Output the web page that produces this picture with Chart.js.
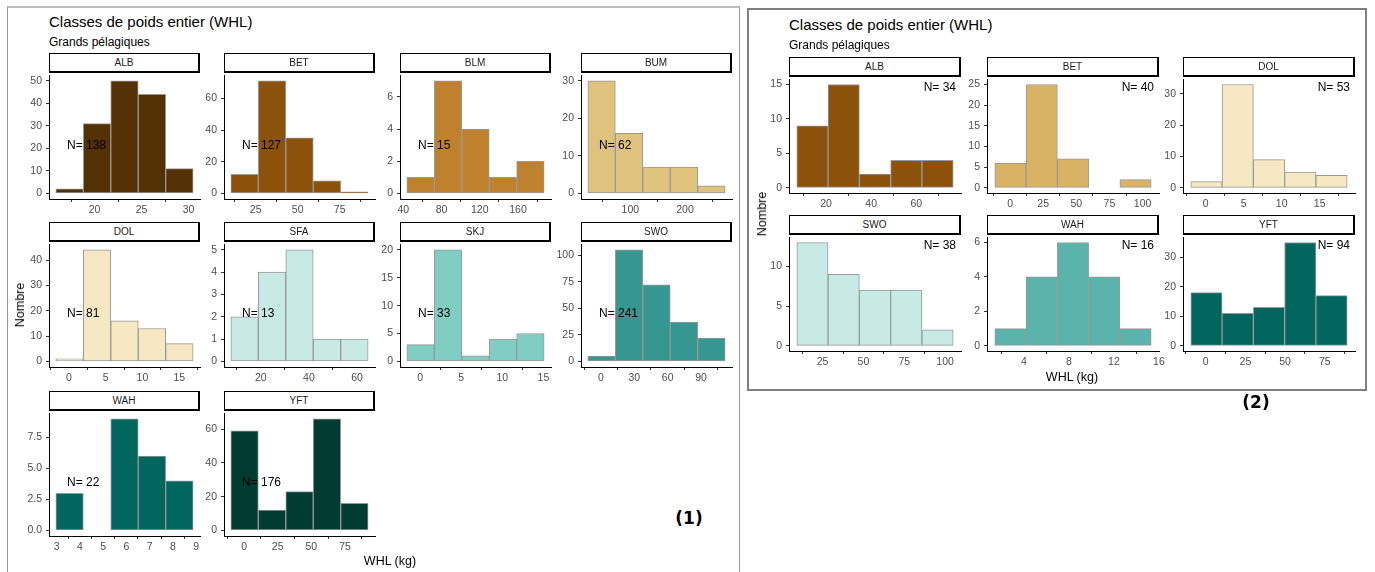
<!DOCTYPE html>
<html>
<head>
<meta charset="utf-8">
<script src="https://cdn.jsdelivr.net/npm/chart.js@4.4.1/dist/chart.umd.min.js"></script>
<style>
  body { margin: 0; width: 1375px; height: 572px; background: #fff; overflow: hidden; position: relative;
         font-family: "Liberation Sans", Arial, sans-serif; }
  .abs { position: absolute; white-space: nowrap; }
  canvas { position: absolute; }
  .strip { position: absolute; box-sizing: border-box; height: 20px; background: #fff; z-index: 2;
           border-top: 1px solid #000; border-left: 1px solid #000; border-right: 2px solid #000; border-bottom: 2px solid #000;
           font-size: 10px; line-height: 17px; text-align: center; color: #1a1a1a; }
</style>
</head>
<body>
<div class="abs" style="left:7px;top:6px;width:731px;height:600px;border:1px solid #999;border-top:2px solid #bdbdbd;"></div>
<div class="abs" style="left:747px;top:8px;width:616px;height:379px;border:2px solid #7f7f7f;"></div>
<script>
// panel (1): all species
const panel1Species = ['ALB', 'BET', 'BLM', 'BUM', 'DOL', 'SFA', 'SKJ', 'SWO', 'WAH', 'YFT'];
const panel1Mids = [
  [17.35, 20.27, 23.19, 26.11, 29.03],
  [18.4, 34.75, 51.1, 67.45, 83.8],
  [58.15, 86.85, 115.55, 144.25, 172.95],
  [47.5, 97.7, 147.9, 198.1, 248.3],
  [0.1, 3.83, 7.56, 11.29, 15.02],
  [13.3, 24.7, 36.1, 47.5, 58.9],
  [0.06, 3.4, 6.74, 10.08, 13.42],
  [0.55, 25.25, 49.95, 74.65, 99.35],
  [3.56, 4.74, 5.92, 7.1, 8.28],
  [0.4, 20.8, 41.2, 61.6, 82.0]
];
const panel1Counts = [
  [2, 31, 50, 44, 11],
  [12, 71, 35, 8, 1],
  [1, 7, 4, 1, 2],
  [30, 16, 7, 7, 2],
  [1, 44, 16, 13, 7],
  [2, 4, 5, 1, 1],
  [3, 20, 1, 4, 5],
  [5, 105, 72, 37, 22],
  [3, 0, 9, 6, 4],
  [59, 12, 23, 66, 16]
];
const panel1XTicks = [[20, 25, 30], [25, 50, 75], [40, 80, 120, 160], [100, 200], [0, 5, 10, 15],
  [20, 40, 60], [0, 5, 10, 15], [0, 30, 60, 90], [3, 4, 5, 6, 7, 8, 9], [0, 25, 50, 75]];
const panel1YTicks = [[0, 10, 20, 30, 40, 50], [0, 20, 40, 60], [0, 2, 4, 6], [0, 10, 20, 30], [0, 10, 20, 30, 40],
  [0, 1, 2, 3, 4, 5], [0, 5, 10, 15, 20], [0, 25, 50, 75, 100], [0, 2.5, 5, 7.5], [0, 20, 40, 60]];

// panel (2)
const panel2Species = ['ALB', 'BET', 'DOL', 'SWO', 'WAH', 'YFT'];
const panel2Mids = [
  [14.0, 27.85, 41.7, 55.55, 69.4],
  [0.3, 23.9, 47.5, 71.1, 94.7],
  [0.09, 4.21, 8.33, 12.45, 16.57],
  [18.78, 37.93, 57.08, 76.23, 95.38],
  [2.8, 5.58, 8.36, 11.14, 13.92],
  [0.45, 20.15, 39.85, 59.55, 79.25]
];
const panel2Counts = [
  [9, 15, 2, 4, 4],
  [6, 25, 7, 0, 2],
  [2, 33, 9, 5, 4],
  [13, 9, 7, 7, 2],
  [1, 4, 6, 4, 1],
  [18, 11, 13, 35, 17]
];
const panel2XTicks = [[20, 40, 60], [0, 25, 50, 75, 100], [0, 5, 10, 15], [25, 50, 75, 100], [4, 8, 12, 16], [0, 25, 50, 75]];
const panel2YTicks = [[0, 5, 10, 15], [0, 5, 10, 15, 20, 25], [0, 10, 20, 30], [0, 5, 10], [0, 2, 4, 6], [0, 10, 20, 30]];

const panel1Colors = ['#543005', '#8C510A', '#BF812D', '#DFC27D', '#F6E8C3', '#C7EAE5', '#80CDC1', '#35978F', '#01665E', '#003C30'];
const panel2Colors = ['#8C510A', '#D8B365', '#F6E8C3', '#C7EAE5', '#5AB4AC', '#01665E'];

const FONT = '"Liberation Sans", Arial, sans-serif';

// "N= xx" text inside each panel
const nLabel = {
  id: 'nLabel',
  afterDatasetsDraw(chart, args, opts) {
    const { ctx, chartArea: a } = chart;
    ctx.save();
    ctx.font = '12px ' + FONT;
    ctx.fillStyle = '#000';
    ctx.textBaseline = 'middle';
    if (opts.corner) {
      ctx.textAlign = 'right';
      ctx.fillText(opts.text, a.right - 5, a.top + 8.5);
    } else {
      ctx.textAlign = 'left';
      ctx.fillText(opts.text, a.left + 18, a.top + (a.bottom - a.top) * 0.565);
    }
    ctx.restore();
  }
};

function text(str, x, base, size, extra) {
  const d = document.createElement('div');
  d.className = 'abs';
  d.textContent = str;
  d.style.fontSize = size + 'px';
  d.style.lineHeight = size + 'px';
  d.style.left = x + 'px';
  d.style.top = (base - 0.8465 * size) + 'px';
  Object.assign(d.style, extra || {});
  document.body.appendChild(d);
  return d;
}

function facet(name, mids, counts, xt, yt, color, left, top, w, h, corner) {
  const YW = 32, TP = 8, RP = 8, XH = 19;
  const strip = document.createElement('div');
  strip.className = 'strip';
  strip.style.left = left + 'px';
  strip.style.top = (top - 20) + 'px';
  strip.style.width = w + 'px';
  strip.textContent = name;
  document.body.appendChild(strip);

  const cv = document.createElement('canvas');
  cv.width = w + YW + RP;
  cv.height = h + TP + XH;
  cv.style.left = (left - YW) + 'px';
  cv.style.top = (top - TP) + 'px';
  document.body.appendChild(cv);

  const bw = (mids[mids.length - 1] - mids[0]) / (mids.length - 1);
  const lo = mids[0] - bw / 2, hi = mids[mids.length - 1] + bw / 2;
  const xmin = lo - 0.05 * (hi - lo), xmax = hi + 0.05 * (hi - lo);
  const top_ = Math.max(...counts);
  const decimals = yt.some(v => !Number.isInteger(v)) ? 1 : 0;
  const n = counts.reduce((s, v) => s + v, 0);

  const axisGrid = { display: true, drawOnChartArea: false, drawTicks: true, tickLength: 3, color: '#333333', lineWidth: 1 };
  const axisBorder = { display: true, color: '#000000', width: 1 };
  const tickFont = { family: FONT, size: 10.5 };

  new Chart(cv, {
    type: 'bar',
    data: {
      datasets: [{
        data: mids.map((m, i) => ({ x: m, y: counts[i] })),
        backgroundColor: color,
        borderColor: '#999999',
        borderWidth: 1,
        borderSkipped: false,
        barPercentage: 1,
        categoryPercentage: 1,
        xAxisID: 'x',
        yAxisID: 'y'
      }]
    },
    options: {
      responsive: false,
      animation: false,
      devicePixelRatio: 1,
      layout: { padding: { top: TP, right: RP, left: 0, bottom: 0 } },
      plugins: {
        legend: { display: false },
        tooltip: { enabled: false },
        nLabel: { text: 'N= ' + n, corner: corner }
      },
      scales: {
        x: {
          type: 'linear', display: false, min: xmin, max: xmax, offset: false,
          grid: { offset: false },
          afterBuildTicks: s => { s.ticks = []; }
        },
        xt: {
          type: 'linear', position: 'bottom', min: xmin, max: xmax, offset: false,
          grid: axisGrid, border: axisBorder,
          ticks: { font: tickFont, color: '#4D4D4D', padding: 2, autoSkip: false, maxRotation: 0,
                   callback: v => String(v) },
          afterBuildTicks: s => { s.ticks = xt.map(v => ({ value: v })); },
          afterFit: s => { s.height = XH; }
        },
        y: {
          type: 'linear', min: -0.05 * top_, max: 1.05 * top_,
          grid: axisGrid, border: axisBorder,
          ticks: { font: tickFont, color: '#4D4D4D', padding: 4, autoSkip: false,
                   callback: v => v.toFixed(decimals) },
          afterBuildTicks: s => { s.ticks = yt.map(v => ({ value: v })); },
          afterFit: s => { s.width = YW; }
        }
      }
    },
    plugins: [nLabel]
  });
}

// panel (1) layout: 4 columns, 3 rows
const p1Left = [49, 224, 400, 581], p1Top = [73, 242, 411], p1H = [126, 125, 125];
panel1Species.forEach((sp, i) => {
  const c = i % 4, r = Math.floor(i / 4);
  facet(sp, panel1Mids[i], panel1Counts[i], panel1XTicks[i], panel1YTicks[i], panel1Colors[i],
        p1Left[c], p1Top[r], 151, p1H[r], false);
});

// panel (2) layout: 3 columns, 2 rows
const p2Left = [789, 987, 1183], p2Top = [77, 235];
panel2Species.forEach((sp, i) => {
  const c = i % 3, r = Math.floor(i / 3);
  facet(sp, panel2Mids[i], panel2Counts[i], panel2XTicks[i], panel2YTicks[i], panel2Colors[i],
        p2Left[c], p2Top[r], 172, 116, true);
});

// titles and axis titles
text('Classes de poids entier (WHL)', 49, 26.7, 15);
text('Grands pélagiques', 49, 45.7, 12);
text('Classes de poids entier (WHL)', 789, 30, 15);
text('Grands pélagiques', 789, 49, 12);

text('WHL (kg)', 390, 566, 12.5, { transform: 'translateX(-50%)' });
text('WHL (kg)', 1072, 381.5, 12.5, { transform: 'translateX(-50%)' });

text('Nombre', 20, 305, 12.5, { transform: 'translate(-50%, -50%) rotate(-90deg)', top: '305px', lineHeight: '14px' });
text('Nombre', 762, 214, 12.5, { transform: 'translate(-50%, -50%) rotate(-90deg)', top: '214px', lineHeight: '14px' });

text('(1)', 689, 524.5, 17, { transform: 'translateX(-50%)', fontFamily: '"DejaVu Sans", sans-serif', fontWeight: 'bold' });
text('(2)', 1256, 408, 17, { transform: 'translateX(-50%)', fontFamily: '"DejaVu Sans", sans-serif', fontWeight: 'bold' });
</script>
</body>
</html>
